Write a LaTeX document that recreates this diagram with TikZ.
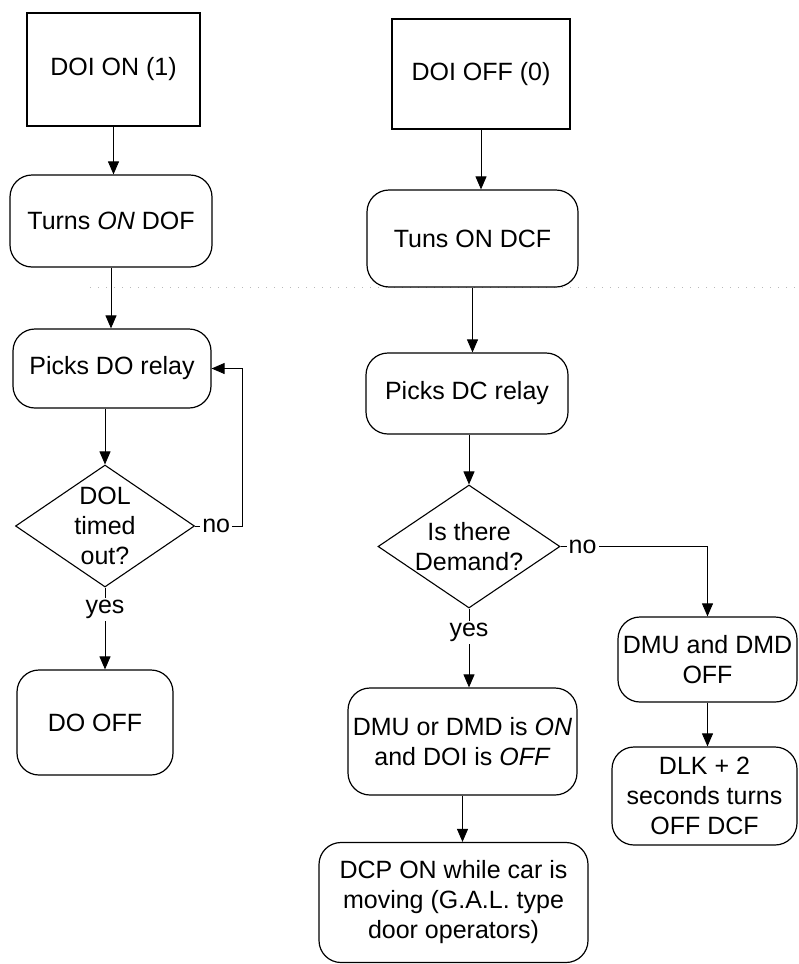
\documentclass[tikz,border=0pt]{standalone}
\usepackage{fontspec}
\setmainfont{Liberation Sans}
\usetikzlibrary{shapes.geometric,arrows.meta}
\begin{document}
\begin{tikzpicture}[x=1pt,y=-1pt,
  every node/.style={font=\fontsize{25}{30}\selectfont, align=center, inner sep=0pt},
  sqbox/.style={draw, line width=1.2pt},
  rbox/.style={draw, line width=1.2pt, rounded corners=22pt},
  dec/.style={draw, diamond, line width=1.1pt, inner sep=0pt},
  flow/.style={line width=0.9pt, -{Triangle[width=11pt,length=13pt]}},
  lbl/.style={fill=white, inner sep=2pt}]
\useasboundingbox (0,0) rectangle (798,964);
\draw[gray!55, line width=0.8pt, dash pattern=on 1pt off 7pt] (90,287) -- (798,287);

% left column
\node[sqbox, minimum width=173pt, minimum height=113pt] (doion) at (113.5,69.5) {DOI ON (1)};
\node[rbox, minimum width=202pt, minimum height=92pt] (dof) at (111,221) {Turns \textit{ON} DOF};
\node[rbox, minimum width=198pt, minimum height=79pt] (pdo) at (112,368.5) {Picks DO relay};
\node[dec, minimum width=179pt, minimum height=122pt,
      label={[name=doltxt, align=center]center:DOL\\timed\\out?}] (dol) at (105,526) {};
\node[rbox, minimum width=156pt, minimum height=105pt] (dooff) at (95,722.5) {DO OFF};

% right column
\node[sqbox, minimum width=178pt, minimum height=110pt] (doioff) at (481,74) {DOI OFF (0)};
\node[rbox, minimum width=211pt, minimum height=97pt] (dcf) at (472.5,238.5) {Tuns ON DCF};
\node[rbox, minimum width=202pt, minimum height=81pt] (pdc) at (467,393.5) {Picks DC relay};
\node[dec, minimum width=182pt, minimum height=123pt,
      label={[name=demtxt, align=center]center:Is there\\Demand?}] (dem) at (469,546.5) {};
\node[rbox, minimum width=229pt, minimum height=107pt] (dmuon) at (462.5,741.5) {DMU or DMD is \textit{ON}\\and DOI is \textit{OFF}};
\node[rbox, minimum width=269pt, minimum height=120pt] (dcp) at (453.5,902.5) {DCP ON while car is\\moving (G.A.L. type\\door operators)};
\node[rbox, minimum width=179pt, minimum height=85pt] (dmuoff) at (707.5,659.5) {DMU and DMD\\OFF};
\node[rbox, minimum width=185pt, minimum height=98pt] (dlk) at (704.5,796) {DLK + 2\\seconds turns\\OFF DCF};

% connectors left
\draw[flow] (doion.south) -- (doion.south |- dof.north);
\draw[flow] (dof.south) -- (dof.south |- pdo.north);
\draw[flow] (dol.north |- pdo.south) -- (dol.north);
\draw[flow] (dol.east) -- node[lbl, pos=0.45] (nol) {no} ++(47,0) |- (pdo.east);
\draw[flow] (dol.south) -- node[lbl, pos=0.27] (yesl) {yes} (dol.south |- dooff.north);

% connectors right
\draw[flow] (doioff.south) -- (doioff.south |- dcf.north);
\draw[flow] (dcf.south) -- (dcf.south |- pdc.north);
\draw[flow] (dem.north |- pdc.south) -- (dem.north);
\draw[flow] (dem.east) -- node[lbl, pos=0.15] (nor) {no} (dmuoff.north |- dem.east) -- (dmuoff.north);
\draw[flow] (dem.south) -- node[lbl, pos=0.3] (yesr) {yes} (dem.south |- dmuon.north);
\draw[flow] (dmuon.south) -- (dmuon.south |- dcp.north);
\draw[flow] (dmuoff.south) -- (dmuoff.south |- dlk.north);
\end{tikzpicture}
\end{document}
